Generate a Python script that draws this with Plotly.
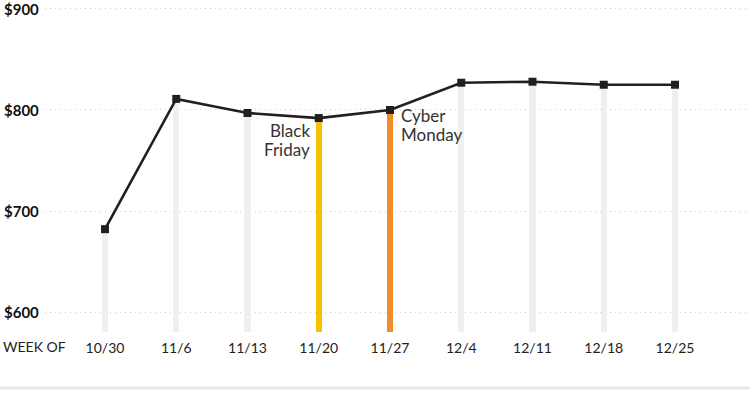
import plotly.graph_objects as go

weeks = ["10/30", "11/6", "11/13", "11/20", "11/27", "12/4", "12/11", "12/18", "12/25"]
values = [682, 811, 797, 792, 800, 827, 828, 825, 825]
bar_colors = ["#efefef", "#efefef", "#efefef", "#f6c200", "#f28c28", "#efefef", "#efefef", "#efefef", "#efefef"]
y_ticks = [600, 700, 800, 900]
y_tick_labels = ["$600", "$700", "$800", "$900"]

y_min, y_max = 580.2, 908.9
xi = list(range(len(weeks)))

fig = go.Figure()
fig.add_trace(go.Bar(
    x=xi, y=[v - y_min for v in values], base=y_min,
    marker=dict(color=bar_colors, line=dict(width=0)),
    width=0.09, hoverinfo="skip", showlegend=False,
))
fig.add_trace(go.Scatter(
    x=xi, y=values, mode="lines+markers",
    line=dict(color="#231f20", width=2.6),
    marker=dict(symbol="square", size=8, color="#231f20"),
    showlegend=False,
))

annotations = []
for v, t in zip(y_ticks, y_tick_labels):
    annotations.append(dict(
        x=-43 / 705, xref="paper", y=v, yref="y", text=t, showarrow=False,
        xanchor="left", yanchor="middle",
        font=dict(family="Lato", size=15, color="#111", weight="bold"),
    ))
annotations.append(dict(
    x=-44 / 705, xref="paper", y=-15 / 332, yref="paper", text="WEEK OF",
    showarrow=False, xanchor="left", yanchor="middle",
    font=dict(family="Lato", size=14, color="#222"),
))
label_font = dict(family="Lato", size=17, color="#333")
for txt, ys in (("Black", -12), ("Friday", -31)):
    annotations.append(dict(
        x=3, y=values[3], xref="x", yref="y", text=txt, showarrow=False,
        xanchor="right", yanchor="middle", xshift=-7, yshift=ys, font=label_font,
    ))
for txt, ys in (("Cyber", -6), ("Monday", -25)):
    annotations.append(dict(
        x=4, y=values[4], xref="x", yref="y", text=txt, showarrow=False,
        xanchor="left", yanchor="middle", xshift=9, yshift=ys, font=label_font,
    ))

fig.update_layout(
    width=750, height=397,
    margin=dict(l=45, r=0, t=0, b=65),
    paper_bgcolor="white", plot_bgcolor="white",
    xaxis=dict(
        range=[-60 / 71.25, 645 / 71.25], tickmode="array", tickvals=xi, ticktext=weeks,
        showgrid=False, zeroline=False, showline=False, ticks="",
        tickfont=dict(family="Lato", size=14, color="#222"), ticklabelstandoff=6,
    ),
    yaxis=dict(
        range=[y_min, y_max], tickmode="array", tickvals=y_ticks, showticklabels=False,
        showgrid=True, gridcolor="#cfcfcf", griddash="1px,4px", gridwidth=1,
        zeroline=False, showline=False,
    ),
    annotations=annotations,
    shapes=[dict(
        type="line", xref="paper", yref="paper", x0=-45 / 705, x1=1,
        y0=-56 / 332, y1=-56 / 332, line=dict(color="#e8e8e8", width=3),
    )],
    bargap=0,
)

fig.write_html(
    "out.html",
    config={"displayModeBar": False},
    post_script="document.body.style.margin='0';document.body.style.overflow='hidden';",
)
